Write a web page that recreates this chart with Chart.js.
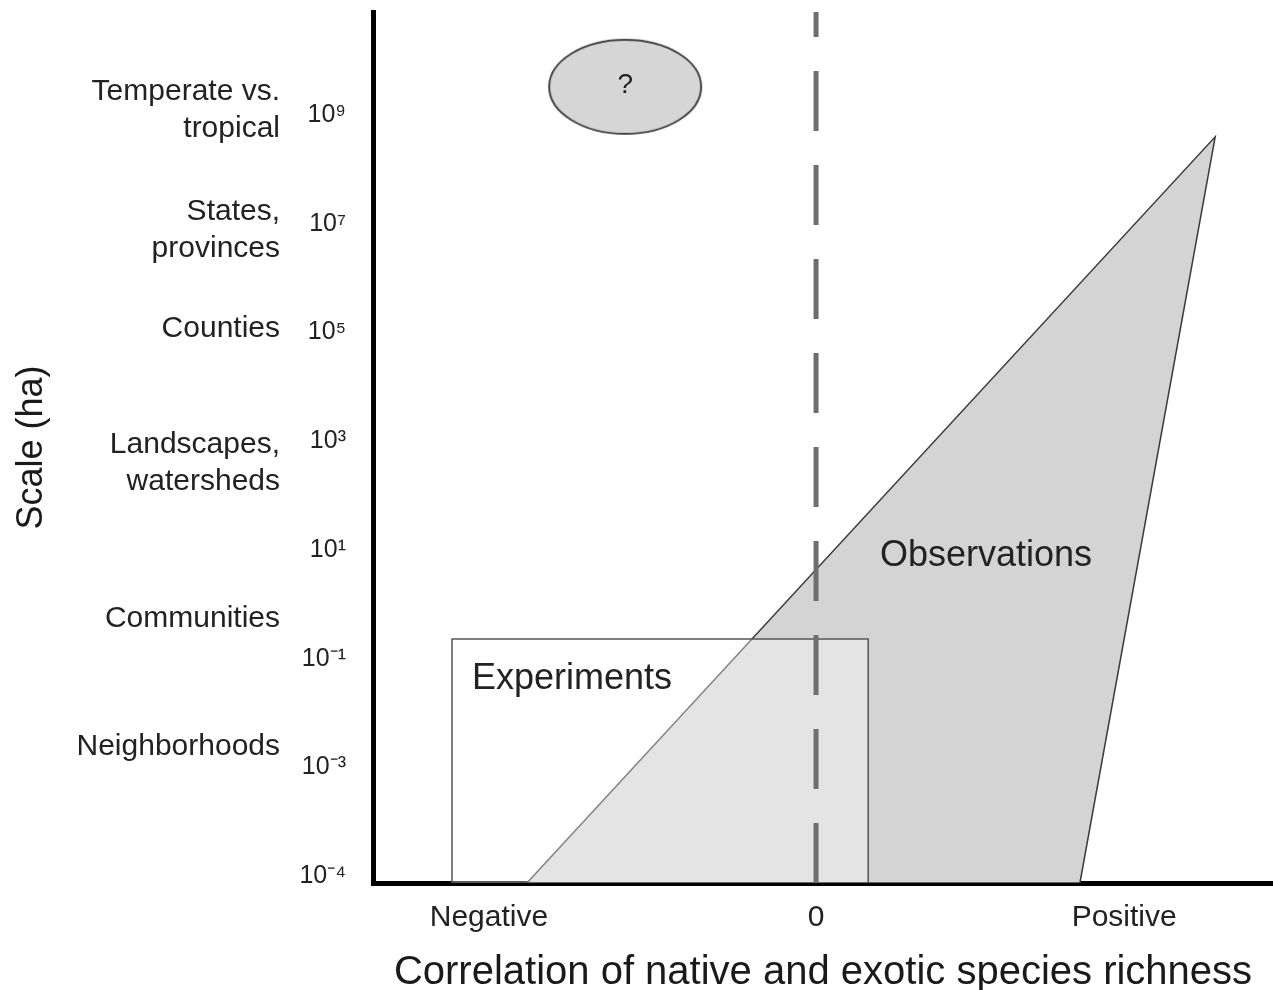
<!DOCTYPE html>
<html>
<head>
<meta charset="utf-8">
<script src="https://cdn.jsdelivr.net/npm/chart.js@4.4.1/dist/chart.umd.min.js"></script>
<style>
    body { margin: 0; background: #fff; }
    #wrap { width: 1273px; height: 990px; }
</style>
</head>
<body>
<div id="wrap"><canvas id="scaleChart"></canvas></div>
<script>
// y is an ordinal "level" axis: one step per printed area tick
const tickLevels = [0, 1, 2, 3, 4, 5, 6, 7];
const tickLabels = ["10⁻⁴", "10⁻³", "10⁻¹", "10¹", "10³", "10⁵", "10⁷", "10⁹"];

const scaleNames = [
    ["Temperate vs.", "tropical"],
    ["States,", "provinces"],
    "Counties",
    ["Landscapes,", "watersheds"],
    "Communities",
    "Neighborhoods"
];
const scaleNameLevels = [7.045, 5.94, 5.03, 3.8, 2.37, 1.19];

const xTickValues = [-1.035, 0, 0.975];
const xTickLabels = ["Negative", "0", "Positive"];

const yMin = -0.064;
const yMax = 7.948;
const xMin = -1.402;
const xMax = 1.446;

// observational studies: wedge widening toward positive correlation at large scale
const observations = [
    { x: -0.915, y: yMin },
    { x: 1.263, y: 6.8 },
    { x: 0.835, y: yMin },
    { x: -0.915, y: yMin }
];

// experiments: small scales, mostly negative correlation
const experiments = [
    { x: -1.152, y: yMin },
    { x: -1.152, y: 2.18 },
    { x: 0.165, y: 2.18 },
    { x: 0.165, y: yMin },
    { x: -1.152, y: yMin }
];

const zeroLine = [{ x: 0, y: yMin }, { x: 0, y: yMax }];
const unknown = [{ x: -0.604, y: 7.26 }];

const notes = [
    { text: "Observations", x: 0.538, y: 2.94, size: 36 },
    { text: "Experiments", x: -0.772, y: 1.81, size: 36 },
    { text: "?", x: -0.604, y: 7.27, size: 28 }
];

const FONT = "'Liberation Sans', Arial, Helvetica, sans-serif";
const INK = "#222";

// oval marker for the unexplored large-scale negative region
const makeOval = () => {
    let c = document.createElement("canvas");
    c.width = 160;
    c.height = 100;
    let g = c.getContext("2d");
    g.beginPath();
    g.ellipse(80, 50, 76, 47, 0, 0, Math.PI * 2);
    g.fillStyle = "#d6d6d6";
    g.fill();
    g.lineWidth = 2;
    g.strokeStyle = "#444";
    g.stroke();
    return c;
};

// labels hang past the plot edges on purpose, so drop the overflow padding
const noOverflow = size => axis => {
    if (axis.isHorizontal()) {
        axis.height = size;
        axis.paddingLeft = 0;
        axis.paddingRight = 0;
    } else {
        axis.width = size;
        axis.paddingTop = 0;
        axis.paddingBottom = 0;
    }
};

const notesPlugin = {
    id: "notes",
    afterDatasetsDraw(chart) {
        const { ctx, scales } = chart;
        ctx.save();
        ctx.fillStyle = INK;
        ctx.textAlign = "center";
        ctx.textBaseline = "middle";
        notes.forEach(n => {
            ctx.font = n.size + "px " + FONT;
            ctx.fillText(n.text, scales.x.getPixelForValue(n.x), scales.y.getPixelForValue(n.y));
        });
        ctx.restore();
    }
};

new Chart(document.getElementById("scaleChart"), {
    type: "line",
    data: {
        datasets: [
            {
                data: zeroLine,
                borderColor: "#6e6e6e",
                borderWidth: 5,
                borderDash: [60, 34],
                borderCapStyle: "butt",
                pointRadius: 0,
                fill: false
            },
            {
                data: unknown,
                showLine: false,
                pointStyle: makeOval(),
                pointRadius: 1
            },
            {
                data: experiments,
                borderColor: "#555",
                borderWidth: 1.5,
                backgroundColor: "rgba(255,255,255,0.37)",
                pointRadius: 0,
                tension: 0,
                fill: "shape"
            },
            {
                data: observations,
                borderColor: "#3a3a3a",
                borderWidth: 1.5,
                backgroundColor: "#d4d4d4",
                pointRadius: 0,
                tension: 0,
                fill: "shape"
            }
        ]
    },
    options: {
        responsive: true,
        maintainAspectRatio: false,
        animation: false,
        layout: {
            autoPadding: false,
            padding: { top: 12, right: 0, bottom: 0, left: 0 }
        },
        plugins: {
            legend: { display: false },
            tooltip: { enabled: false }
        },
        scales: {
            x: {
                type: "linear",
                min: xMin,
                max: xMax,
                afterBuildTicks: axis => { axis.ticks = xTickValues.map(v => ({ value: v })); },
                afterFit: noOverflow(107),
                ticks: {
                    autoSkip: false,
                    maxRotation: 0,
                    padding: 12,
                    color: INK,
                    font: { family: FONT, size: 30, lineHeight: 1 },
                    callback: (v, i) => xTickLabels[i]
                },
                grid: { display: false },
                border: { display: true, color: "#000", width: 5 },
                title: {
                    display: true,
                    text: "Correlation of native and exotic species richness",
                    color: "#1a1a1a",
                    font: { family: FONT, size: 40, lineHeight: 1 },
                    padding: { top: 0, bottom: -3 }
                }
            },
            y: {
                type: "linear",
                position: "left",
                weight: 0,
                min: yMin,
                max: yMax,
                afterBuildTicks: axis => { axis.ticks = tickLevels.map(v => ({ value: v })); },
                afterFit: noOverflow(81),
                ticks: {
                    autoSkip: false,
                    padding: 19,
                    color: INK,
                    font: { family: FONT, size: 25 },
                    callback: (v, i) => tickLabels[i]
                },
                grid: { display: false },
                border: { display: true, color: "#000", width: 5 }
            },
            names: {
                type: "linear",
                position: "left",
                weight: 1,
                min: yMin,
                max: yMax,
                afterBuildTicks: axis => { axis.ticks = scaleNameLevels.map(v => ({ value: v })); },
                afterFit: noOverflow(292),
                ticks: {
                    autoSkip: false,
                    padding: 4,
                    color: INK,
                    font: { family: FONT, size: 30, lineHeight: 1.233 },
                    callback: (v, i) => scaleNames[i]
                },
                grid: { display: false },
                border: { display: false },
                title: {
                    display: true,
                    text: "Scale (ha)",
                    color: "#1a1a1a",
                    font: { family: FONT, size: 36, lineHeight: 1 },
                    padding: { top: 14, bottom: 0 }
                }
            }
        }
    },
    plugins: [notesPlugin]
});
</script>
</body>
</html>
